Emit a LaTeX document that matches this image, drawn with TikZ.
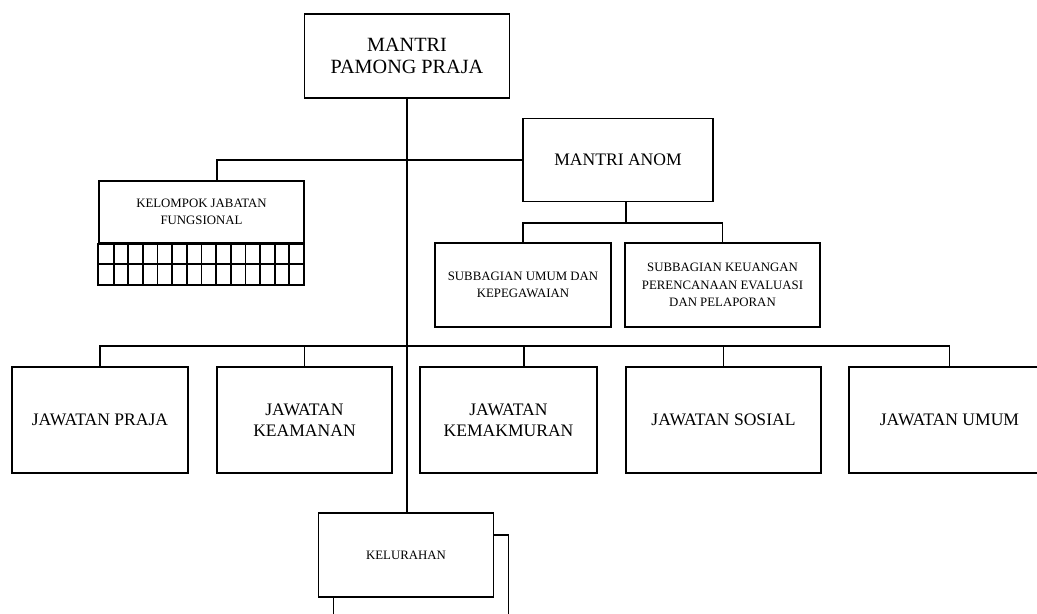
\documentclass[tikz,border=0pt]{standalone}
\usepackage{fontspec}
\setmainfont{Liberation Serif}
\usetikzlibrary{positioning}

\begin{document}
\begin{tikzpicture}[x=0.02cm, y=-0.02cm,
  garis/.style={line width=1pt},
  kotak/.style={draw, garis, fill=white, align=center, inner sep=0pt},
  besar/.style={kotak, font=\fontsize{10}{12}\selectfont, minimum height=2.12cm},
  kecil/.style={kotak, font=\fontsize{7.3}{10}\selectfont}]
\useasboundingbox (0,0) rectangle (1037,614);
\clip (0,0) rectangle (1037,614);

\node[kotak, font=\fontsize{11.5}{13}\selectfont, minimum width=4.1cm, minimum height=1.68cm] (mpp) at (407,56) {MANTRI\\PAMONG PRAJA};
\node[kotak, font=\fontsize{10}{12}\selectfont, minimum width=3.8cm, minimum height=1.66cm] (anom) at (618,160) {MANTRI ANOM};
\node[kecil, minimum width=4.1cm, minimum height=1.24cm] (fung) at (201.5,212) {KELOMPOK JABATAN\\FUNGSIONAL};
\node[kecil, minimum width=3.52cm, minimum height=1.68cm] (sumum) at (523,285) {SUBBAGIAN UMUM DAN\\KEPEGAWAIAN};
\node[kecil, minimum width=3.9cm, minimum height=1.68cm] (skeu) at (722.5,285) {SUBBAGIAN KEUANGAN\\PERENCANAAN EVALUASI\\DAN PELAPORAN};

\node[besar, minimum width=3.52cm] (praja) at (100,420) {JAWATAN PRAJA};
\node[besar, minimum width=3.5cm] (aman) at (304.5,420) {JAWATAN\\KEAMANAN};
\node[besar, minimum width=3.54cm] (makmur) at (508.5,420) {JAWATAN\\KEMAKMURAN};
\node[besar, minimum width=3.9cm] (sosial) at (723.5,420) {JAWATAN SOSIAL};
\node[besar, minimum width=4.02cm] (umum) at (949.5,420) {JAWATAN UMUM};

\node[kotak, minimum width=3.5cm, minimum height=1.68cm] (lurah2) at (421,577) {};
\node[kecil, minimum width=3.5cm, minimum height=1.68cm] (lurah) at (406,555) {KELURAHAN};

% grid under jabatan fungsional
\draw[garis] (fung.south west) rectangle (304,285);
\draw[garis] (99,264) -- (304,264);
\foreach \i in {1,...,13}
  \draw[garis] ({99+\i*205/14},243) -- ({99+\i*205/14},285);

\coordinate (kf) at (217,181);
\coordinate (ka) at (626,223);
\coordinate (kb) at (407,346);

\draw[garis]
	(mpp.south) -- (mpp.south |- lurah.north)
	(anom.west) -| (kf)
	(ka |- anom.south) -- (ka)
	(sumum.north) |- (ka) -| (skeu.north)
	(praja.north) |- (kb) -| (umum.north)
	(aman.north) -- (aman.north |- kb)
	([xshift=0.31cm]makmur.north) -- ([xshift=0.31cm]makmur.north |- kb)
	(sosial.north) -- (sosial.north |- kb)
;
\end{tikzpicture}
\end{document}
